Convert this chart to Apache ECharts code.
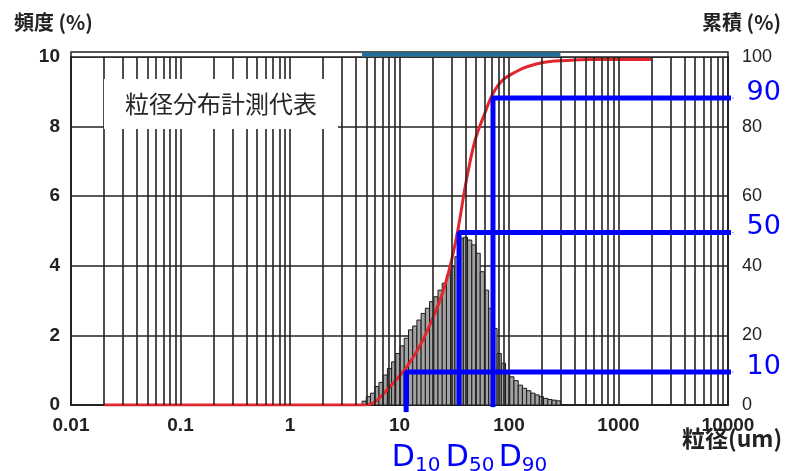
<!DOCTYPE html>
<html><head><meta charset="utf-8">
<script src="https://cdn.jsdelivr.net/npm/echarts@6/dist/echarts.min.js"></script>
<style>html,body{margin:0;padding:0;background:#fff}#c{width:786px;height:471px}</style>
</head><body><div id="c"></div>
<script>
// x tick labels (log axis decades)
const xTicks = [0.01, 0.1, 1, 10, 100, 1000, 10000];
// histogram bin edges (um) and frequency (%)
const binEdges = [4.55,4.97,5.43,5.94,6.49,7.09,7.75,8.47,9.25,10.11,11.05,12.08,13.20,14.42,15.76,17.22,18.82,20.57,22.48,24.56,26.84,29.33,32.06,35.03,38.28,41.84,45.72,49.96,54.60,59.66,65.20,71.25,77.86,85.09,92.99,101.6,111.0,121.4,132.6,144.9,158.4,173.1,189.1,206.7,225.9,246.8,269.8,294.8];
const freq = [0.11,0.24,0.34,0.53,0.65,0.86,1.05,1.24,1.48,1.70,1.92,2.16,2.27,2.44,2.63,2.78,2.97,3.11,3.30,3.50,3.74,3.97,4.26,4.79,4.82,4.74,4.60,4.36,3.83,3.30,2.78,2.20,1.48,1.20,0.96,0.81,0.70,0.57,0.48,0.41,0.34,0.29,0.24,0.19,0.16,0.14,0.12];
// cumulative curve (um, %)
const cumX = [0.02,4.5,5.7,8.2,11.7,16.4,23.4,28.9,34,40.5,48.9,60.4,71.4,88,118,146,205,292,585,2000];
const cumY = [0,0,0.5,5.3,11,18.7,30,39.7,50,64,76,84,89.5,93.4,95.9,97.2,98.4,98.9,99.3,99.3];
// D values
const dNames = ['10','50','90'];
const dX = [11.5, 35, 71.4];
const dLevel = [9.5, 49.6, 88.2];
const dBottom = [-2.0, 0, -0.6];
const dEndX = 11100;
// measurement range strip
const stripRange = [4.55, 294.8];
// minor grid values
const gridMantissa = [2,3,4,5,6,7,8,9,10];
const gridDecades = [0.01,0.1,1,10,100,1000];

const gridVals = [];
gridDecades.forEach(d => gridMantissa.forEach(m => gridVals.push(+(d*m).toPrecision(3))));

const histData = freq.map((f,i)=>[binEdges[i], binEdges[i+1], f]);
const cumData = cumX.map((x,i)=>[x, cumY[i]]);

const BLUE = '#0000ff';
const dLabelShift = [10, 11, 30];
const dSeries = dX.map((x,i)=>({
  type:'line', yAxisIndex:1, z:5, clip:false, silent:true,
  symbol:'circle', symbolSize:1, showSymbol:true,
  lineStyle:{color:BLUE,width:5}, itemStyle:{color:BLUE},
  data:[
    {value:[x, dBottom[i]], label:{show:true, position:'bottom', distance: 38 + (dBottom[i]*3.48), offset:[dLabelShift[i],0],
      formatter:'{d|D}{s|'+dNames[i]+'}',
      rich:{d:{fontSize:30,color:BLUE,fontFamily:'DejaVu Sans',verticalAlign:'bottom',padding:[0,0,2,0]},
            s:{fontSize:20,color:BLUE,fontFamily:'DejaVu Sans',verticalAlign:'bottom'}}}},
    {value:[x, dLevel[i]], label:{show:false}},
    {value:[dEndX, dLevel[i]], label:{show:true, position:'right', distance:13, offset:[0,-5],
      formatter:dNames[i], color:BLUE, fontSize:27, fontFamily:'DejaVu Sans'}}
  ]
}));

const option = {
  animation:false,
  backgroundColor:'#fff',
  grid:{left:71, right:58, top:57, bottom:66, show:false},
  title:{text:'粒径分布計測代表', left:104, top:79, backgroundColor:'#fff', padding:[10,21],
    textStyle:{fontSize:24, fontWeight:'normal', color:'#262626', fontFamily:'Noto Sans CJK JP', lineHeight:30}},
  xAxis:{type:'log', logBase:10, min:0.01, max:10000, splitNumber:7,
    axisLine:{lineStyle:{color:'#222',width:2}}, axisTick:{show:false},
    splitLine:{show:false},
    axisLabel:{margin:11, color:'#222', fontSize:19, fontWeight:'bold', fontFamily:'Liberation Sans',
      formatter:v=>{const t=xTicks.find(k=>Math.abs(Math.log10(k)-Math.log10(v))<1e-6);return t===undefined?'':String(t);}}},
  yAxis:[
    {type:'value', min:0, max:10, interval:2, position:'left',
      axisLine:{show:true,lineStyle:{color:'#222',width:2}}, axisTick:{show:false},
      splitLine:{show:true,lineStyle:{color:'#222',width:1.6}},
      axisLabel:{margin:11,color:'#222',fontSize:19,fontWeight:'bold',fontFamily:'Liberation Sans'}},
    {type:'value', min:0, max:100, interval:20, position:'right',
      axisLine:{show:true,lineStyle:{color:'#222',width:2}}, axisTick:{show:false},
      splitLine:{show:false},
      axisLabel:{margin:14,color:'#222',fontSize:18,fontFamily:'Liberation Sans',padding:[8,0,0,0]}}
  ],
  series:[
    {type:'line', z:1, silent:true, data:[], markLine:{silent:true, symbol:['none','none'], animation:false,
      label:{show:false}, lineStyle:{color:'#222',width:1.6,type:'solid'},
      data:gridVals.map(v=>({xAxis:v}))}},
    {type:'custom', z:2, silent:true, encode:{x:[0,1],y:2}, data:histData,
      renderItem:(params,api)=>{
        const p0=api.coord([api.value(0),api.value(2)]);
        const p1=api.coord([api.value(1),0]);
        return {type:'rect', shape:{x:p0[0],y:p0[1],width:p1[0]-p0[0],height:p1[1]-p0[1]},
          style:{fill:'#a2a2a2',stroke:'#1a1a1a',lineWidth:1}};
      }},
    {type:'line', z:3, yAxisIndex:1, silent:true, smooth:0.35, showSymbol:false,
      lineStyle:{color:'#e3262e',width:3}, data:cumData},
    ...dSeries
  ],
  graphic:[
    {type:'text', id:'yl', left:14, top:12, style:{text:'頻度 (%)', fontSize:20, fontWeight:'bold', fill:'#222', fontFamily:'Noto Sans CJK JP'}},
    {type:'text', id:'yr', right:5, top:12, style:{text:'累積 (%)', fontSize:20, fontWeight:'bold', fill:'#222', fontFamily:'Noto Sans CJK JP'}},
    {type:'text', id:'xn', left:682, top:427, z:10, style:{text:'粒径(um)', fontSize:23, fontWeight:'bold', fill:'#222', fontFamily:'Noto Sans CJK JP'}}
  ]
};
const chart = echarts.init(document.getElementById('c'), null, {renderer:'canvas'});
chart.setOption(option);
const xl = chart.convertToPixel({xAxisIndex:0}, 0.01);
const xr = chart.convertToPixel({xAxisIndex:0}, 10000);
const s0 = chart.convertToPixel({xAxisIndex:0}, stripRange[0]);
const s1 = chart.convertToPixel({xAxisIndex:0}, stripRange[1]);
const yTop = chart.convertToPixel({yAxisIndex:0}, 10);
chart.setOption({graphic:[
  {type:'rect', id:'strip', z:1, shape:{x:xl, y:yTop-5, width:xr-xl, height:5}, style:{fill:'#fff', stroke:'#222', lineWidth:1.5}},
  {type:'rect', id:'stripBlue', z:2, shape:{x:s0, y:yTop-4.5, width:s1-s0, height:4}, style:{fill:'#1f6e9c'}}
]});
</script>
</body></html>
